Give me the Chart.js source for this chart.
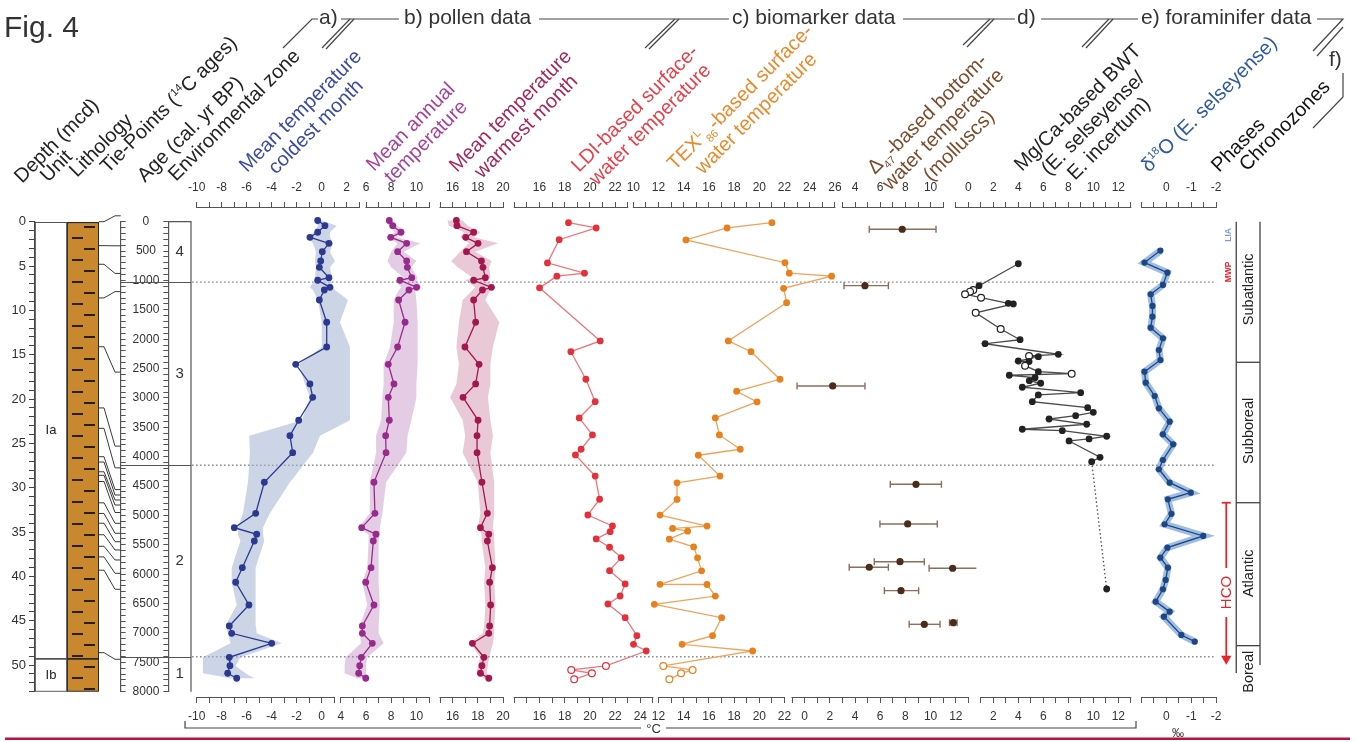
<!DOCTYPE html>
<html><head><meta charset="utf-8"><title>Fig. 4</title>
<script src="https://cdn.jsdelivr.net/npm/chart.js@4.4.1/dist/chart.umd.min.js"></script>
<style>
html,body{margin:0;padding:0;background:#fff}
#fig{position:relative;width:1357px;height:742px;overflow:hidden;font-family:"Liberation Sans",Arial,Helvetica,sans-serif;color:#2b2b2b}
#fig canvas{position:absolute}
.hd{position:absolute;white-space:nowrap;transform-origin:0 0;transform:rotate(-45deg);font-size:20px;line-height:20px}
.hd sup,.hd sub{font-size:11px;line-height:0}
.tx{position:absolute;white-space:nowrap}
#fig svg{position:absolute;left:0;top:0}
</style></head>
<body><div id="fig"></div>
<script>
// ---------- core description ----------
const tieDepth = [0, 2.7, 4.8, 8.6, 14.1, 21.0, 23.3, 26.5, 27.1, 28.2, 28.6, 29.3, 31.7, 32.9, 34.0, 35.3, 36.6, 37.8, 39.3, 48.6];
const tieAge   = [-100, 410, 880, 1190, 2560, 3820, 4190, 4560, 4652, 4737, 4822, 4950, 5134, 5304, 5447, 5588, 5758, 5985, 6257, 7448];
const unitNames = ['Ia', 'Ib'];
const unitTop = [0, 49.3];
const unitBase = [49.3, 53];
const unitLabelDepth = [23.5, 51.2];
const zoneBounds = [1028, 4145, 7405];
const zoneNames = ['4', '3', '2', '1'];

// ---------- pollen-based reconstructions (°C) ----------
const pollenAge = [-20,68,180,266,368,511,669,776,953,997,1117,1163,1333,1712,2133,2427,2762,2989,3380,3642,3932,4435,4963,5208,5320,5435,5889,6137,6524,6881,7006,7176,7414,7557,7686,7771];
const mtco     = [-0.32,0.26,-0.32,-0.94,0.58,0.05,-0.08,-0.19,0.58,-0.32,0.66,0.21,-0.19,0.4,0.4,-2.08,-0.94,-0.72,-1.84,-2.54,-2.32,-4.59,-5.28,-6.99,-5.2,-5.39,-6.35,-6.88,-5.82,-7.39,-7.2,-4.0,-7.39,-7.34,-7.52,-6.8];
const mtcoLow  = [-0.54,-0.3,-0.62,-1.1,-0.7,-0.46,-0.54,-0.46,-0.54,-0.54,-0.94,-0.7,-0.3,0.0,0.0,-1.82,-1.34,-0.94,-1.58,-5.8,-5.74,-5.9,-6.3,-6.7,-6.7,-6.5,-7.2,-7.2,-6.8,-7.7,-7.5,-7.3,-9.5,-9.5,-9.5,-7.3];
const mtcoHigh = [0.02,1.2,0.66,0.66,0.9,0.66,1.06,0.66,0.82,0.74,0.9,1.06,2.1,1.46,2.26,2.26,2.26,2.26,2.26,-0.14,-0.7,-2.54,-4.14,-4.7,-4.7,-4.6,-5.3,-5.3,-5.26,-5.26,-5.2,-3.2,-6.5,-6.9,-6.1,-5.4];
const mat      = [7.85,8.12,8.78,7.96,9.23,8.51,9.23,9.28,9.63,8.7,10.02,9.41,8.59,9.1,8.51,7.77,8.22,7.77,7.85,7.56,7.59,6.63,6.71,5.66,6.79,6.58,6.4,5.98,6.63,5.71,5.71,6.5,5.63,5.5,5.42,5.98];
const matLow   = [7.5,7.8,8.3,7.6,8.5,8.0,7.7,8.0,9.0,8.3,8.8,8.6,8.2,8.2,7.9,7.4,7.4,7.3,7.2,6.8,6.8,6.3,6.3,5.4,6.2,6.2,6.1,5.7,6.1,5.5,5.5,5.6,4.4,4.3,4.3,5.3];
const matHigh  = [8.1,8.5,9.1,8.4,10.3,9.0,10.0,9.6,10.1,10.0,10.4,9.9,10.0,10.1,10.1,10.1,10.0,10.0,9.6,9.3,9.2,7.6,7.3,7.1,7.1,7.0,7.0,7.0,7.1,7.0,7.0,7.4,6.1,6.0,6.0,6.3];
const mtwa     = [16.3,16.35,17.67,17.04,18.02,17.1,18.29,18.41,18.6,17.67,19.08,18.37,17.67,17.83,16.98,18.1,17.83,16.83,18.02,17.94,17.94,18.33,18.76,18.21,18.87,18.76,19.16,18.94,19.02,18.94,18.87,17.57,18.49,18.33,18.21,18.87];
const mtwaLow  = [15.6,15.7,16.9,16.6,17.3,16.6,15.9,16.4,17.6,17.0,17.8,17.6,16.8,16.5,16.3,16.5,16.3,15.8,16.8,17.0,16.8,18.0,18.2,18.0,18.3,18.3,18.6,18.5,18.6,18.5,18.4,17.4,18.2,18.0,17.9,18.5];
const mtwaHigh = [16.8,17.2,18.2,17.7,19.6,17.8,19.1,18.9,19.0,18.6,19.4,19.0,18.6,19.7,19.2,19.0,19.0,18.8,19.0,19.2,19.0,19.3,19.3,19.2,19.3,19.3,19.4,19.3,19.4,19.3,19.3,19.2,18.9,18.8,18.7,19.2];

// ---------- biomarker SST (°C) ----------
const ldiAge  = [17,107,306,701,876,927,1126,2030,2213,2682,3063,3340,3630,3873,3970,4330,4724,4992,5179,5276,5400,5541,5718,5940,6166,6371,6507,6740,7046,7193,7307,7562,7630,7687,7789];
const ldi     = [18.3,20.5,17.56,16.63,19.57,17.38,16.0,20.82,18.49,19.68,20.42,19.15,20.2,19.3,18.85,20.42,20.77,19.84,21.79,21.61,20.5,21.56,22.48,21.56,22.8,22.4,21.43,22.8,23.73,23.46,24.47,21.27,18.52,20.16,18.75];
const ldiOpen = [0,0,0,0,0,0,0,0,0,0,0,0,0,0,0,0,0,0,0,0,0,0,0,0,0,0,0,0,0,0,0,1,1,1,1];
const texAge  = [17,107,311,698,876,927,1134,1379,2030,2213,2682,2886,3068,3340,3630,3873,3975,4330,4444,4727,4994,5181,5221,5267,5403,5535,5722,5943,6172,6175,6372,6513,6740,7046,7193,7307,7562,7630,7687,7789];
const tex     = [21.0,17.44,14.18,22.04,22.38,25.74,21.93,22.17,17.54,19.34,21.64,18.2,19.82,16.51,16.83,18.49,15.16,16.88,13.47,13.47,12.12,15.85,13.12,14.31,12.86,14.79,15.1,15.42,12.12,15.85,16.51,11.67,17.01,16.29,13.87,19.47,12.38,14.71,13.79,12.86];
const texOpen = [0,0,0,0,0,0,0,0,0,0,0,0,0,0,0,0,0,0,0,0,0,0,0,0,0,0,0,0,0,0,0,0,0,0,0,0,1,1,1,1];

// ---------- clumped-isotope bottom-water temperature (°C) ----------
const d47Age = [129,1089,2796,4470,5145,5787,5882,5899,6280,6825,6853];
const d47    = [7.75,4.79,2.23,8.84,8.18,7.57,5.13,11.75,7.65,11.8,9.5];
const d47Lo  = [5.13,3.13,-0.6,6.8,5.98,5.53,3.54,9.88,6.33,11.5,8.3];
const d47Hi  = [10.43,6.65,4.79,10.86,10.53,9.5,6.65,13.63,9.05,12.1,10.75];

// ---------- foraminifera ----------
const mgcaAge  = [716,1089,1163,1191,1236,1294,1390,1400,1550,1826,2009,2077,2257,2286,2297,2371,2380,2451,2553,2587,2614,2655,2706,2750,2818,2910,2949,3063,3165,3244,3302,3358,3448,3533,3557,3652,3698,3732,4010,4084,6252];
const mgca     = [4.0,0.86,0.4,0.14,-0.26,1.02,3.2,3.6,0.59,2.59,4.14,1.34,7.2,4.86,5.6,4.0,4.86,4.54,5.6,8.27,3.28,5.34,4.88,5.79,4.32,8.99,5.6,5.12,9.55,10.0,8.59,6.46,9.47,4.32,7.52,11.07,9.66,8.06,10.54,9.87,11.07];
const mgcaOpen = [0,0,1,1,1,1,0,0,1,1,0,0,0,1,0,0,0,1,0,1,0,0,0,0,0,0,0,0,0,0,0,0,0,0,0,0,0,0,0,0,0];
const d18Age = [492,696,867,1076,1235,1434,1617,1804,1984,2184,2354,2553,2740,2967,3176,3403,3619,3789,4056,4214,4442,4612,4725,4973,5150,5349,5548,5718,5889,6098,6256,6467,6637,6722,7034,7148];
const d18    = [0.24,0.88,-0.04,0.14,0.63,0.56,0.56,0.63,0.14,0.3,0.24,0.88,0.83,0.47,0.3,-0.13,0.14,-0.27,0.14,0.3,-0.13,-0.98,-0.06,-0.2,0.07,-1.48,-0.04,0.24,-0.06,0.03,0.14,0.43,-0.13,0.1,-0.6,-1.14];

// ---------- phases and chronozones ----------
const chronoNames = ['Subatlantic', 'Subboreal', 'Atlantic', 'Boreal'];
const chronoStart = [0, 2393, 4783, 7216];
const chronoFrameBase = [7680, 7545];
const chronoLabelAt = [1150, 3560, 5985, 7660];
const hcoSpan = [4783, 7440];
const hcoGap  = [5894, 6728];
const eventNames = ['LIA', 'MWP'];
const eventAge   = [226, 856];
const eventColors = ['#7d9dd6', '#e8232c'];

// ---------- axis ticks and labels ----------
const mtcoTopTicks = [-10, 3, 1],  mtcoTopLabels = [-10,-8,-6,-4,-2,0,2];
const mtcoBotTicks = [-10, 1, 1],  mtcoBotLabels = [-10,-8,-6,-4,-2,0];
const matTopTicks = [6, 11, 1],    matTopLabels = [6,8,10];
const matBotTicks = [4, 11, 1],    matBotLabels = [4,6,8,10];
const mtwaTopTicks = [15, 20, 1],  mtwaTopLabels = [16,18,20];
const mtwaBotTicks = [15, 20, 1],  mtwaBotLabels = [16,18,20];
const ldiTopTicks = [14, 23, 1],   ldiTopLabels = [16,18,20,22];
const ldiBotTicks = [14, 25, 1],   ldiBotLabels = [16,18,20,22,24];
const texTopTicks = [10, 26, 1],   texTopLabels = [10,12,14,16,18,20,22,24,26];
const texBotTicks = [12, 22, 1],   texBotLabels = [12,14,16,18,20,22];
const d47TopTicks = [3, 11, 1],    d47TopLabels = [4,6,8,10];
const d47BotTicks = [-1, 13, 1],   d47BotLabels = [0,2,4,6,8,10,12];
const mgcaTopTicks = [-1, 13, 1],  mgcaTopLabels = [0,2,4,6,8,10,12];
const mgcaBotTicks = [1, 13, 1],   mgcaBotLabels = [2,4,6,8,10,12];
const d18TopTicks = [-2, 1, 0.5],  d18TopLabels = [0,-1,-2];
const d18BotTicks = [-2, 1, 0.5],  d18BotLabels = [0,-1,-2];
const depthLabelEvery = 5, ageLabelEvery = 500;

// ---------- drawing ----------
const FONT = '"Liberation Sans", Arial, Helvetica, sans-serif';
Chart.defaults.font.family = FONT;
Chart.defaults.color = '#333';
const fig = document.getElementById('fig');

function canvasAt(x, y, w, h) {
  const c = document.createElement('canvas');
  c.width = w; c.height = h;
  c.style.left = x + 'px'; c.style.top = y + 'px';
  c.style.width = w + 'px'; c.style.height = h + 'px';
  fig.appendChild(c);
  return c;
}
function baseOptions() {
  return { responsive: false, maintainAspectRatio: false, animation: false, events: [],
    plugins: { legend: { display: false }, tooltip: { enabled: false } } };
}
const series = (ys, xs) => ys.map((y, i) => ({ x: xs[i], y }));
const envelope = (ys, lo, hi) => series(ys, lo).concat(series(ys, hi).reverse());
function tickRange(t) { const out = []; for (let v = t[0]; v <= t[1] + 1e-9; v += t[2]) out.push(+v.toFixed(3)); return out; }

// vertical geometry shared by the proxy panels
const AGE_MIN = -233, AGE_MAX = 8090;
const P_TOP = 168, P_H = 565, AX_T = 40, AX_B = 36, SIDE = 24;

const bracketPlugin = {
  id: 'bracket',
  afterDraw(chart) {
    const ctx = chart.ctx;
    ['xt', 'xb'].forEach(id => {
      const s = chart.scales[id];
      if (!s || !s.ticks.length) return;
      const a = s.getPixelForValue(s.ticks[0].value), b = s.getPixelForValue(s.ticks[s.ticks.length - 1].value);
      const y = id === 'xt' ? Math.round(s.bottom) - 0.5 : Math.round(s.top) + 0.5;
      ctx.save(); ctx.strokeStyle = '#555'; ctx.lineWidth = 1.1;
      ctx.beginPath(); ctx.moveTo(Math.min(a, b) - 0.5, y); ctx.lineTo(Math.max(a, b) + 0.5, y); ctx.stroke();
      ctx.restore();
    });
  }
};

function dataPanel(spec) {
  const cx = Math.floor(spec.left - SIDE);
  const padL = spec.left - cx;
  const w = Math.ceil(padL + spec.width + SIDE);
  const padR = w - padL - spec.width;
  const cv = canvasAt(cx, P_TOP, w, P_H);
  const axis = (pos, t, labels, h) => ({
    type: 'linear', position: pos, min: spec.min, max: spec.max, reverse: !!spec.reverse,
    afterBuildTicks: s => { s.ticks = tickRange(t).map(v => ({ value: v })); },
    afterFit: s => { s.height = h; s.paddingLeft = 0; s.paddingRight = 0; },
    border: { display: false },
    grid: { drawOnChartArea: false, drawTicks: true, tickLength: 6, tickColor: '#555', tickWidth: 1 },
    ticks: { autoSkip: false, maxRotation: 0, minRotation: 0, padding: pos === 'top' ? 7 : 6, color: '#333',
      font: { size: 12 }, callback: v => labels.some(l => Math.abs(l - v) < 1e-6) ? String(v) : '' }
  });
  const opts = baseOptions();
  opts.layout = { padding: { left: padL, right: padR, top: 0, bottom: 0 } };
  opts.scales = {
    xt: axis('top', spec.topTicks, spec.topLabels, AX_T),
    xb: axis('bottom', spec.botTicks, spec.botLabels, AX_B),
    y: { type: 'linear', display: false, min: AGE_MIN, max: AGE_MAX, reverse: true }
  };
  spec.datasets.forEach(d => { d.xAxisID = 'xt'; d.yAxisID = 'y'; if (d.clip === undefined) d.clip = false; });
  return new Chart(cv, { type: 'line', data: { datasets: spec.datasets }, options: opts, plugins: [bracketPlugin] });
}

function lineSet(ages, vals, color, lineColor, open) {
  return { data: series(ages, vals), borderColor: lineColor || color, borderWidth: 1.3,
    pointRadius: 3.4, pointBackgroundColor: open ? open.map(o => o ? '#fff' : color) : color,
    pointBorderColor: color, pointBorderWidth: open ? open.map(o => o ? 1.2 : 0) : 0, order: 1 };
}
function bandSet(ages, lo, hi, fillColor) {
  return { data: envelope(ages, lo, hi), fill: 'shape', backgroundColor: fillColor,
    borderColor: 'rgba(0,0,0,0)', borderWidth: 0, pointRadius: 0, order: 3 };
}

// background: dotted zone boundaries across the proxy panels
(function () {
  const cv = canvasAt(192, P_TOP, 1024, P_H);
  const opts = baseOptions();
  opts.layout = { padding: { left: 0, right: 0, top: AX_T, bottom: AX_B } };
  opts.scales = { x: { type: 'linear', display: false, min: 0, max: 1 },
                  y: { type: 'linear', display: false, min: AGE_MIN, max: AGE_MAX, reverse: true } };
  new Chart(cv, { type: 'line', options: opts, data: { datasets: zoneBounds.map(a => ({
    data: [{ x: 0, y: a }, { x: 1, y: a }], borderColor: '#8d8d8d', borderWidth: 1.4,
    borderDash: [1.6, 2.4], pointRadius: 0 })) } });
})();

// left block: depth scale, units, lithology
(function () {
  const cv = canvasAt(0, 200, 100, 520);
  const pc = document.createElement('canvas'); pc.width = 32; pc.height = 22;
  const g = pc.getContext('2d');
  g.fillStyle = '#c9882e'; g.fillRect(0, 0, 32, 22);
  g.fillStyle = '#2a2015'; g.fillRect(20, 4, 11, 2); g.fillRect(8, 15, 11, 2);
  const pattern = cv.getContext('2d').createPattern(pc, 'repeat');
  const unitLabels = {
    id: 'unitLabels',
    afterDraw(chart) {
      const { ctx, scales: { x, y } } = chart;
      ctx.save(); ctx.font = '13px ' + FONT; ctx.fillStyle = '#222'; ctx.textAlign = 'center'; ctx.textBaseline = 'middle';
      unitNames.forEach((n, i) => ctx.fillText(n, x.getPixelForValue(0), y.getPixelForValue(unitLabelDepth[i])));
      ctx.restore();
    }
  };
  const opts = baseOptions();
  opts.layout = { padding: { left: 0, right: 1, top: 21.7, bottom: 28.3 } };
  opts.scales = {
    x: { type: 'category', display: false, offset: true },
    y: { type: 'linear', position: 'left', min: 0, max: 53, reverse: true,
      afterBuildTicks: s => { s.ticks = tickRange([0, 53, 1]).map(v => ({ value: v })); },
      afterFit: s => { s.width = 35; },
      border: { color: '#444', width: 1.2 },
      grid: { drawOnChartArea: false, tickLength: 6, tickColor: '#444' },
      ticks: { autoSkip: false, padding: 3, font: { size: 13 }, color: '#333',
        callback: v => v % depthLabelEvery === 0 ? String(v) : '' } }
  };
  new Chart(cv, { type: 'bar', options: opts, plugins: [unitLabels], data: { labels: ['Unit', 'Lithology'], datasets: [
    { data: unitNames.map((n, i) => ({ x: 'Unit', y: [unitTop[i], unitBase[i]] })), backgroundColor: '#fff',
      borderColor: '#555', borderWidth: 1.2, borderSkipped: false, grouped: false, barPercentage: 1, categoryPercentage: 1 },
    { data: unitNames.map((n, i) => ({ x: 'Lithology', y: [unitTop[i], unitBase[i]] })), backgroundColor: pattern,
      borderColor: '#2a2a2a', borderWidth: 1.3, borderSkipped: false, grouped: false, barPercentage: 1, categoryPercentage: 1 }
  ] } });
})();

// left block: tie points, age scale, environmental zones
(function () {
  const cv = canvasAt(99, 200, 100, 520);
  const ruler = {
    id: 'ruler',
    afterDraw(chart) {
      const { ctx, chartArea: ca, scales: { y, yL, yd } } = chart;
      ctx.save();
      ctx.strokeStyle = '#555'; ctx.lineWidth = 1.2;
      ctx.beginPath();
      ctx.moveTo(y.right, y.getPixelForValue(0)); ctx.lineTo(ca.right, y.getPixelForValue(0));
      ctx.lineTo(ca.right, y.getPixelForValue(8000));
      zoneBounds.forEach(a => { const p = Math.round(y.getPixelForValue(a)) + 0.5; ctx.moveTo(yL.right, p); ctx.lineTo(ca.right, p); });
      ctx.stroke();
      ctx.font = '15px ' + FONT; ctx.fillStyle = '#333'; ctx.textAlign = 'center'; ctx.textBaseline = 'middle';
      const edges = [0].concat(zoneBounds, [8000]);
      zoneNames.forEach((n, i) => ctx.fillText(n, (ca.left + ca.right) / 2, y.getPixelForValue((edges[i] + edges[i + 1]) / 2)));
      ctx.strokeStyle = '#3a3a3a'; ctx.lineWidth = 1;
      ctx.beginPath();
      tieDepth.forEach((d, i) => {
        const p0 = yd.getPixelForValue(d), p1 = y.getPixelForValue(tieAge[i]);
        ctx.moveTo(0, p0); ctx.lineTo(5, p0); ctx.lineTo(16, p1); ctx.lineTo(yL.right, p1);
      });
      ctx.stroke();
      ctx.restore();
    }
  };
  const ageTicks = s => { s.ticks = tickRange([0, 8000, 100]).map(v => ({ value: v })); };
  const opts = baseOptions();
  opts.layout = { padding: { left: 0, right: 8, top: 21.7, bottom: 28.3 } };
  opts.scales = {
    x: { type: 'linear', display: false, min: 0, max: 1 },
    y: { type: 'linear', position: 'left', weight: 0, min: 0, max: 8000, reverse: true,
      afterBuildTicks: ageTicks, afterFit: s => { s.width = 47.6; },
      border: { color: '#555', width: 1.2 },
      grid: { drawOnChartArea: false, tickLength: 5, tickColor: '#555' },
      ticks: { autoSkip: false, crossAlign: 'center', padding: 4, font: { size: 12 }, color: '#333',
        callback: v => v % ageLabelEvery === 0 ? String(v) : '' } },
    yL: { type: 'linear', position: 'left', weight: 1, min: 0, max: 8000, reverse: true,
      afterBuildTicks: ageTicks, afterFit: s => { s.width = 21.7; },
      border: { color: '#555', width: 1.2 },
      grid: { drawOnChartArea: false, tickLength: -5, tickColor: '#555' },
      ticks: { display: false } },
    yd: { type: 'linear', display: false, min: 0, max: 53, reverse: true }
  };
  new Chart(cv, { type: 'line', options: opts, plugins: [ruler], data: { datasets: [] } });
})();

// proxy panels
dataPanel({ left: 196.7, width: 162.5, min: -10, max: 3,
  topTicks: mtcoTopTicks, topLabels: mtcoTopLabels, botTicks: mtcoBotTicks, botLabels: mtcoBotLabels,
  datasets: [lineSet(pollenAge, mtco, '#2b3990'), bandSet(pollenAge, mtcoLow, mtcoHigh, 'rgba(160,178,210,0.55)')] });
dataPanel({ left: 340.8, width: 88.2, min: 4, max: 11,
  topTicks: matTopTicks, topLabels: matTopLabels, botTicks: matBotTicks, botLabels: matBotLabels,
  datasets: [lineSet(pollenAge, mat, '#972b8c'), bandSet(pollenAge, matLow, matHigh, 'rgba(180,110,180,0.35)')] });
dataPanel({ left: 440, width: 63, min: 15, max: 20,
  topTicks: mtwaTopTicks, topLabels: mtwaTopLabels, botTicks: mtwaBotTicks, botLabels: mtwaBotLabels,
  datasets: [lineSet(pollenAge, mtwa, '#a3174f'), bandSet(pollenAge, mtwaLow, mtwaHigh, 'rgba(190,90,130,0.33)')] });
dataPanel({ left: 514.3, width: 138.6, min: 14, max: 25,
  topTicks: ldiTopTicks, topLabels: ldiTopLabels, botTicks: ldiBotTicks, botLabels: ldiBotLabels,
  datasets: [lineSet(ldiAge, ldi, '#e3313b', '#f0747a', ldiOpen)] });
dataPanel({ left: 633.3, width: 201.6, min: 10, max: 26,
  topTicks: texTopTicks, topLabels: texTopLabels, botTicks: texBotTicks, botLabels: texBotLabels,
  datasets: [lineSet(texAge, tex, '#e8801c', '#eea35a', texOpen)] });
dataPanel({ left: 792, width: 176.4, min: -1, max: 13,
  topTicks: d47TopTicks, topLabels: d47TopLabels, botTicks: d47BotTicks, botLabels: d47BotLabels,
  datasets: [{ data: series(d47Age, d47), showLine: false, pointRadius: 3.6, pointBackgroundColor: '#4a2c18', pointBorderWidth: 0, order: 1 }]
    .concat(d47Age.map((a, i) => ({ data: [{ x: d47Lo[i], y: a }, { x: d47Hi[i], y: a }], borderColor: '#8c6e5c', borderWidth: 1.4,
      pointStyle: 'line', rotation: 90, pointRadius: 3.5, pointBorderColor: '#8c6e5c', pointBorderWidth: 1.4, order: 2 }))) });
dataPanel({ left: 955.8, width: 175, min: -1, max: 13,
  topTicks: mgcaTopTicks, topLabels: mgcaTopLabels, botTicks: mgcaBotTicks, botLabels: mgcaBotLabels,
  datasets: [Object.assign(lineSet(mgcaAge, mgca, '#222', '#4a4a4a', mgcaOpen), {
    segment: { borderDash: c => c.p1DataIndex === mgcaAge.length - 1 ? [1.5, 2.5] : undefined } })] });
dataPanel({ left: 1141.5, width: 74.7, min: -2, max: 1, reverse: true,
  topTicks: d18TopTicks, topLabels: d18TopLabels, botTicks: d18BotTicks, botLabels: d18BotLabels,
  datasets: [Object.assign(lineSet(d18Age, d18, '#1d4684'), { pointRadius: 3.1 }),
    { data: series(d18Age, d18), borderColor: 'rgba(95,145,205,0.6)', borderWidth: 7, pointRadius: 0, order: 3 }] });

// phases (x < 0) and chronozones (0..1)
(function () {
  const cv = canvasAt(1200, P_TOP, 80, P_H);
  const PH = -0.42, CZ = 0.5;
  const labels = {
    id: 'chronoLabels',
    afterDraw(chart) {
      const { ctx, scales: { x, y } } = chart;
      const rot = (t, px, py) => { ctx.save(); ctx.translate(px, py); ctx.rotate(-Math.PI / 2); ctx.fillText(t, 0, 0); ctx.restore(); };
      ctx.save();
      ctx.textAlign = 'center'; ctx.textBaseline = 'middle';
      ctx.font = '14.5px ' + FONT; ctx.fillStyle = '#222';
      chronoNames.forEach((n, i) => rot(n, x.getPixelForValue(CZ) + 1, y.getPixelForValue(chronoLabelAt[i])));
      ctx.font = '15px ' + FONT; ctx.fillStyle = '#e8232c';
      rot('HCO', x.getPixelForValue(PH) + 1, y.getPixelForValue((hcoGap[0] + hcoGap[1]) / 2));
      ctx.font = 'bold 8.5px ' + FONT;
      eventNames.forEach((n, i) => { ctx.fillStyle = eventColors[i]; rot(n, x.getPixelForValue(PH) + 2, y.getPixelForValue(eventAge[i])); });
      ctx.restore();
    }
  };
  const frame = { borderColor: '#444', borderWidth: 1.3, pointRadius: 0, clip: false };
  const red = '#e8232c';
  const opts = baseOptions();
  opts.layout = { padding: { left: 12.5, right: 20, top: AX_T, bottom: AX_B } };
  opts.scales = { x: { type: 'linear', display: false, min: -1, max: 1 },
                  y: { type: 'linear', display: false, min: AGE_MIN, max: AGE_MAX, reverse: true } };
  const datasets = [
    Object.assign({ data: [{ x: 0, y: chronoStart[0] }, { x: 0, y: chronoFrameBase[0] }] }, frame),
    Object.assign({ data: [{ x: 1, y: chronoStart[0] }, { x: 1, y: chronoFrameBase[1] }] }, frame)
  ].concat(chronoStart.slice(1).map(a => Object.assign({ data: [{ x: 0, y: a }, { x: 1, y: a }] }, frame)), [
    { data: [{ x: PH, y: hcoSpan[0] }, { x: PH, y: hcoGap[0] }], borderColor: red, borderWidth: 1.8,
      pointStyle: 'line', pointRadius: [4.5, 0], pointBorderColor: red, pointBorderWidth: 1.8, clip: false },
    { data: [{ x: PH, y: hcoGap[1] }, { x: PH, y: hcoSpan[1] }], borderColor: red, borderWidth: 1.8,
      pointStyle: 'triangle', rotation: 180, pointRadius: [0, 6], pointBackgroundColor: red, pointBorderWidth: 0, clip: false }
  ]);
  new Chart(cv, { type: 'line', options: opts, plugins: [labels], data: { datasets } });
})();

// ---------- headings and frame ----------
function text(t, x, base, size, color, align, weight) {
  const d = document.createElement('div');
  d.className = 'tx'; d.innerHTML = t;
  d.style.fontSize = size + 'px'; d.style.lineHeight = size + 'px'; d.style.color = color || '#2b2b2b';
  if (weight) d.style.fontWeight = weight;
  d.style.top = (base - 0.8465 * size) + 'px';
  d.style.left = x + 'px';
  if (align === 'center') d.style.transform = 'translateX(-50%)';
  fig.appendChild(d);
}
function header(lines, x, y, color) {
  x += 7;
  const els = lines.map(h => { const d = document.createElement('div'); d.className = 'hd'; d.innerHTML = h; d.style.color = color; fig.appendChild(d); return d; });
  const w0 = els[0].offsetWidth;
  els.forEach((d, i) => {
    const a = (w0 - d.offsetWidth) / 2, b = 22 * i;
    d.style.left = (x + (a + b) * 0.7071 - 11.95) + 'px';
    d.style.top = (y + (b - a) * 0.7071 - 11.95) + 'px';
  });
}

fig.insertAdjacentHTML('beforeend', `<svg width="1357" height="742" xmlns="http://www.w3.org/2000/svg">
<g fill="none" stroke="#444" stroke-width="1.2">
<path d="M283,48 L312,19 H318"/>
<path d="M341,19 H399"/><path d="M322,48 L350,19"/><path d="M326,49 L354,19"/>
<path d="M539,19 H729"/><path d="M645,48 L675,19"/><path d="M649,49 L679,19"/>
<path d="M903,19 H1015"/><path d="M963,45 L990,19"/><path d="M967,47 L994,19"/>
<path d="M1041,19 H1138"/><path d="M1082,47 L1109,19"/><path d="M1086,48 L1113,19"/>
<path d="M1317,19 H1343 L1313,51"/><path d="M1343,27 L1317,56"/>
<path d="M1343,73 V97 L1313,128"/>
<path d="M185,721 V728 H641"/><path d="M666,728 H1136 V721"/>
</g>
<rect x="5" y="737.5" width="1345" height="2.5" fill="#b3153f"/>
</svg>`);

text('Fig. 4', 4, 37.5, 30, '#333');
text('a)', 319, 24, 21, '#333');
text('b) pollen data', 404, 24, 21, '#333');
text('c) biomarker data', 732, 24, 21, '#333');
text('d)', 1017, 24, 21, '#333');
text('e) foraminifer data', 1141, 24, 21, '#333');
text('f)', 1329, 66, 21, '#333');
text('°C', 653.5, 733, 13, '#333', 'center');
text('‰', 1178, 737, 12, '#333', 'center');

header(['Depth (mcd)'], 15, 184, '#222');
header(['Unit'], 41, 183, '#222');
header(['Lithology'], 70, 178, '#222');
header(['Tie-Points (<sup>14</sup>C ages)'], 101, 174, '#222');
header(['Age (cal. yr BP)'], 138, 183, '#222');
header(['Environmental zone'], 169, 182, '#222');
header(['Mean temperature', 'coldest month'], 240, 173, '#3a4aa3');
header(['Mean annual', 'temperature'], 366.7, 171.7, '#a4419d');
header(['Mean temperature', 'warmest month'], 450, 173, '#a2275a');
header(['LDI-based surface-', 'water temperature'], 571.7, 173, '#e8404a');
header(['TEX<sup>L</sup><sub>86</sub>-based surface-', 'water temperature'], 668, 171, '#e88a2c');
header(['Δ<sub>47</sub>-based bottom-', 'water temperature', '(molluscs)'], 868, 175, '#7b4b2c');
header(['Mg/Ca-based BWT', '(E. selseyense/', 'E. incertum)'], 1015, 172, '#222');
header(['δ<sup>18</sup>O (E. selseyense)'], 1142, 173, '#2e5a9e');
header(['Phases'], 1212, 173, '#111');
header(['Chronozones'], 1240, 172, '#111');
</script>
</body></html>
